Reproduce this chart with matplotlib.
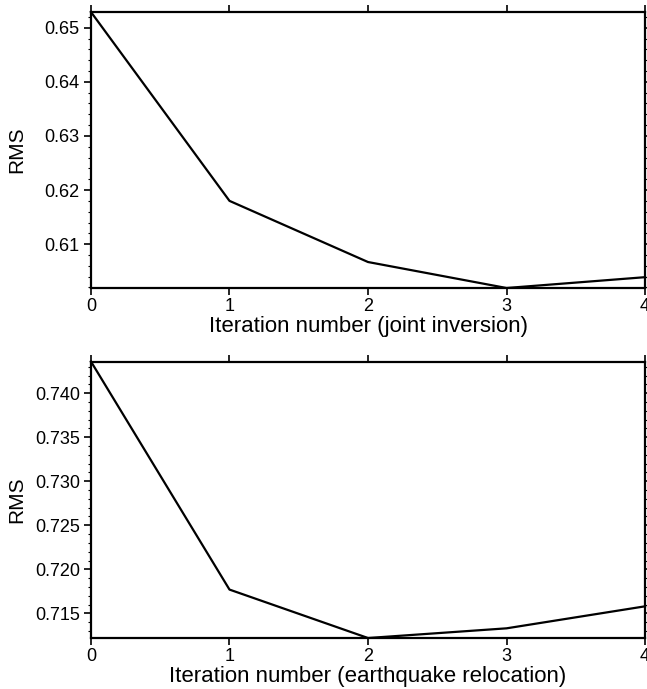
import numpy as np
import matplotlib
matplotlib.use("Agg")
import matplotlib.pyplot as plt
from matplotlib.ticker import MultipleLocator, FormatStrFormatter

plt.rcParams['font.family'] = ['Liberation Sans', 'DejaVu Sans']

# iteration numbers and RMS values
iterations = [0, 1, 2, 3, 4]
rms_joint = [0.6529, 0.6180, 0.6067, 0.6019, 0.6039]
rms_reloc = [0.7436, 0.7177, 0.7122, 0.7133, 0.7158]

xlabels = ['Iteration number (joint inversion)',
           'Iteration number (earthquake relocation)']

fig = plt.figure(figsize=(6.47, 6.89), dpi=100)
ax1 = fig.add_axes([0.1406, 0.582, 0.8564, 0.4006])
ax2 = fig.add_axes([0.1406, 0.074, 0.8564, 0.4013])

def style(ax, ylim, major, minor, fmt, xlabel):
    ax.set_xlim(0, 4)
    ax.set_ylim(*ylim)
    ax.xaxis.set_major_locator(MultipleLocator(1))
    ax.yaxis.set_major_locator(MultipleLocator(major))
    ax.yaxis.set_minor_locator(MultipleLocator(minor))
    ax.yaxis.set_major_formatter(FormatStrFormatter(fmt))
    ax.tick_params(which='major', direction='out', length=5, width=1.2,
                   labelsize=13, top=True, right=True, pad=3)
    ax.tick_params(axis='x', which='major', pad=2)
    ax.tick_params(which='minor', direction='out', length=2.5, width=0.8,
                   right=True)
    for s in ax.spines.values():
        s.set_linewidth(1.6)
    ax.set_xlabel(xlabel, fontsize=16, labelpad=1)
    ax.set_ylabel('RMS', fontsize=15)
    # both RMS labels sit at the same distance from the left edge
    ax.yaxis.set_label_coords(-0.117, 0.5)

ax1.plot(iterations, rms_joint, color='black', lw=1.6, clip_on=False)
style(ax1, (0.6019, 0.6529), 0.01, 0.002, '%.2f', xlabels[0])

ax2.plot(iterations, rms_reloc, color='black', lw=1.6, clip_on=False)
style(ax2, (0.7122, 0.7436), 0.005, 0.001, '%.3f', xlabels[1])

fig.savefig('out.png', dpi=100)
